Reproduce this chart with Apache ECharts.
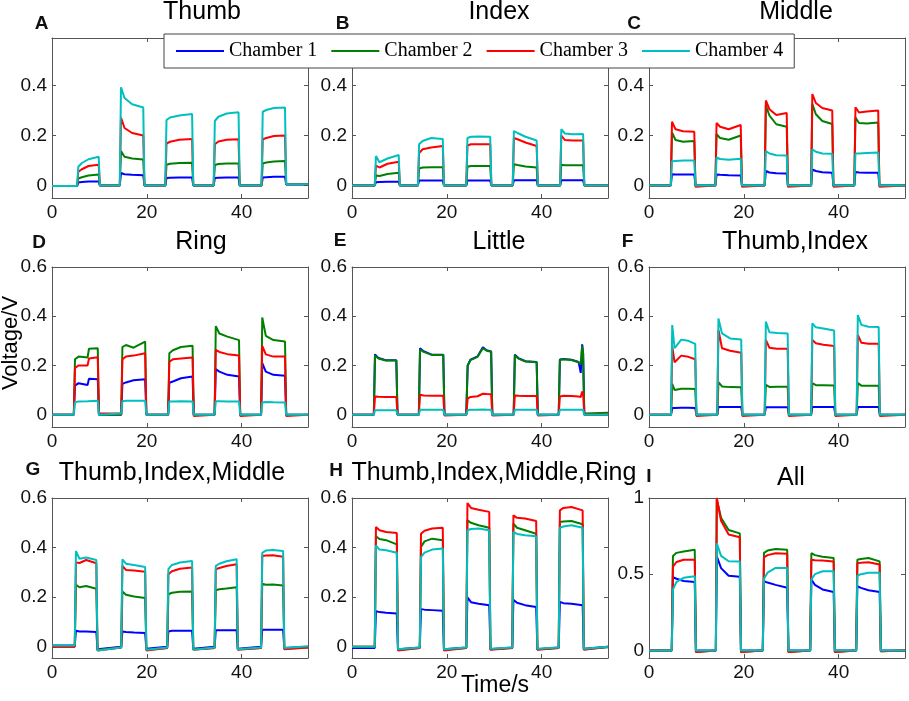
<!DOCTYPE html>
<html><head><meta charset="utf-8">
<script src="https://cdn.jsdelivr.net/npm/echarts@6/dist/echarts.min.js"></script>
<style>html,body{margin:0;padding:0;background:#fff}#c{width:909px;height:701px}</style>
</head><body><div id="c"></div>
<script>
const seriesNames = ['Chamber 1','Chamber 2','Chamber 3','Chamber 4'];
const seriesColors = ['#0000ff','#008000','#ff0000','#00bfbf'];
const panelTitles = ['Thumb','Index','Middle','Ring','Little','Thumb,Index','Thumb,Index,Middle','Thumb,Index,Middle,Ring','All'];
const panelLetters = ['A','B','C','D','E','F','G','H','I'];
const xTicks = [0,20,40];
const yTicksTop = [0,0.2,0.4];
const yTicksMid = [0,0.2,0.4,0.6];
const yTicksAll = [0,0.5,1];

// ---- Panel A : Thumb
const tA = [0, 5.3,5.55,6.3,7.7,9.85,10.1, 14.3,14.55,15.3,16.9,19.25,19.5, 23.9,24.15,24.9,26.85,29.55,29.8, 34.1,34.35,35.1,36.85,39.35,39.6, 44.2,44.45,45.2,46.8,49.15,49.4, 54];
const A1 = [-0.002, -0.002,0.012,0.014,0.016,0.016,0, 0,0.05,0.045,0.043,0.041,0, 0,0.03,0.031,0.032,0.032,0, 0,0.03,0.031,0.032,0.032,0, 0,0.032,0.033,0.035,0.035,0.004, 0.004];
const A2 = [-0.002, -0.002,0.028,0.033,0.04,0.044,0, 0,0.138,0.115,0.108,0.104,0, 0,0.083,0.087,0.09,0.091,0, 0,0.082,0.086,0.088,0.088,0, 0,0.088,0.092,0.096,0.098,0.005, 0.005];
const A3 = [-0.002, -0.002,0.055,0.065,0.078,0.083,0, 0,0.272,0.23,0.21,0.2,0, 0,0.168,0.175,0.183,0.186,0, 0,0.165,0.176,0.183,0.185,0, 0,0.185,0.19,0.198,0.2,0.005, 0.005];
const A4 = [-0.002, -0.002,0.075,0.09,0.105,0.115,0, 0,0.393,0.35,0.325,0.312,0, 0,0.262,0.272,0.28,0.286,0, 0,0.258,0.275,0.288,0.293,0, 0,0.295,0.302,0.31,0.312,0.005, 0.005];

// ---- Panel B : Index
const tB = [0, 4.8,5.05,5.8,7.5,9.85,10.1, 13.9,14.15,14.9,16.7,19.15,19.4, 24.1,24.35,25.1,26.8,29.15,29.4, 33.9,34.15,34.9,36.6,38.95,39.2, 43.9,44.15,44.9,46.5,48.75,49.0, 54];
const B1 = [0, 0,0.013,0.014,0.015,0.015,0, 0,0.02,0.02,0.02,0.02,0, 0,0.02,0.02,0.02,0.02,0, 0,0.021,0.021,0.021,0.021,0, 0,0.021,0.021,0.021,0.021,0, 0];
const B2 = [0, 0,0.04,0.038,0.046,0.051,0, 0,0.068,0.072,0.073,0.073,0, 0,0.075,0.078,0.078,0.078,0, 0,0.085,0.082,0.076,0.072,0, 0,0.083,0.081,0.081,0.081,0, 0];
const B3 = [0, 0,0.08,0.072,0.087,0.095,0, 0,0.13,0.145,0.152,0.158,0, 0,0.16,0.165,0.165,0.165,0, 0,0.19,0.185,0.172,0.158,0, 0,0.2,0.182,0.18,0.18,0, 0];
const B4 = [0, 0,0.118,0.093,0.108,0.122,0, 0,0.165,0.178,0.19,0.186,0, 0,0.19,0.195,0.196,0.195,0, 0,0.218,0.21,0.195,0.18,0, 0,0.225,0.208,0.205,0.206,0, 0];

// ---- Panel C : Middle
const tC = [0, 4.6,4.85,5.6,7.2,9.55,9.8, 14.0,14.25,15.0,16.8,19.35,19.6, 24.4,24.65,25.4,26.85,29.05,29.3, 34.2,34.45,35.2,36.55,38.65,38.9, 43.3,43.55,44.3,45.95,48.35,48.6, 54];
const C1 = [0, 0,0.045,0.044,0.044,0.044,0, 0,0.044,0.043,0.041,0.04,0, 0,0.058,0.052,0.049,0.048,0, 0,0.064,0.058,0.053,0.051,0, 0,0.054,0.052,0.051,0.051,0, 0];
const C2 = [0, 0,0.212,0.182,0.175,0.178,0, 0,0.205,0.19,0.183,0.2,0, 0,0.32,0.28,0.245,0.235,0, 0,0.326,0.285,0.258,0.246,0, 0,0.272,0.25,0.248,0.252,0, 0];
const C3 = [0, 0,0.255,0.225,0.217,0.215,-0.005, 0,0.25,0.235,0.225,0.242,-0.005, 0,0.34,0.305,0.282,0.29,-0.005, 0,0.366,0.33,0.31,0.3,-0.005, 0,0.313,0.292,0.296,0.3,-0.005, 0];
const C4 = [0, 0,0.097,0.098,0.1,0.1,0, 0,0.112,0.106,0.103,0.107,0, 0,0.138,0.128,0.121,0.12,0, 0,0.145,0.135,0.128,0.127,0, 0,0.128,0.128,0.13,0.132,0, 0];

// ---- Panel D : Ring
const tD = [0, 4.6,4.85,5.6,7.5,7.8,9.65,9.9, 14.6,14.85,15.6,17.2,19.65,19.9, 24.5,24.75,25.5,27.2,29.65,29.9, 34.3,34.55,35.3,37.0,39.45,39.7, 44.1,44.35,45.1,46.7,49.15,49.4, 54];
const D1 = [0, 0,0.118,0.128,0.121,0.146,0.144,0, 0,0.125,0.131,0.14,0.144,0, 0,0.13,0.135,0.148,0.155,0, 0,0.185,0.175,0.162,0.155,0, 0,0.209,0.175,0.162,0.158,0, 0];
const D2 = [0, 0,0.225,0.236,0.232,0.268,0.27,0, 0,0.275,0.283,0.272,0.297,0, 0,0.25,0.262,0.275,0.28,0, 0,0.36,0.33,0.317,0.303,0, 0,0.395,0.32,0.303,0.297,0, 0];
const D3 = [0, 0,0.19,0.2,0.2,0.228,0.233,0.005, 0.005,0.225,0.236,0.24,0.25,0, 0,0.215,0.225,0.228,0.232,-0.005, 0,0.263,0.255,0.246,0.24,-0.005, 0,0.28,0.245,0.236,0.236,-0.005, 0];
const D4 = [0, 0,0.05,0.054,0.055,0.057,0.057,0, 0.005,0.055,0.057,0.057,0.057,0, 0,0.054,0.054,0.055,0.054,0, 0,0.055,0.055,0.054,0.054,0, 0,0.05,0.052,0.051,0.05,0, 0];

// ---- Panel E : Little
const tE = [0, 4.6,4.85,5.6,7.1,9.35,9.6, 14.1,14.35,15.1,16.8,19.25,19.5, 24.1,24.4,25.0,26.5,27.6,28.4,29.35,29.6, 34.1,34.35,35.1,36.6,38.95,39.2, 43.6,43.85,44.6,46.3,47.8,48.25,48.55,48.75,49.0, 54];
const E1 = [0, 0,0.245,0.23,0.221,0.221,0, 0,0.27,0.258,0.244,0.244,0, 0,0.2,0.224,0.237,0.274,0.262,0.257,0, 0,0.244,0.23,0.217,0.214,0, 0,0.224,0.226,0.223,0.214,0.17,0.286,0.25,0, 0];
const E2 = [0, 0,0.24,0.228,0.22,0.22,0, 0,0.265,0.255,0.243,0.243,0, 0,0.2,0.222,0.235,0.27,0.26,0.256,0, 0,0.24,0.228,0.216,0.213,0, 0,0.222,0.225,0.222,0.213,0.205,0.28,0.25,0.005, 0.008];
const E3 = [0, 0,0.074,0.073,0.072,0.072,0, 0,0.081,0.078,0.077,0.077,-0.003, 0,0.065,0.072,0.075,0.085,0.084,0.083,-0.003, 0,0.078,0.077,0.076,0.076,-0.003, 0,0.074,0.077,0.076,0.074,0.072,0.094,0.085,0, 0];
const E4 = [0, 0,0.018,0.018,0.018,0.018,0, 0,0.02,0.02,0.02,0.02,0, 0,0.018,0.02,0.02,0.021,0.02,0.02,0, 0,0.02,0.02,0.02,0.02,0, 0,0.02,0.02,0.02,0.02,0.02,0.021,0.02,0, 0];

// ---- Panel F : Thumb,Index
const tF = [0, 4.65,4.9,5.4,6.8,8.3,9.75,10.0, 14.4,14.65,15.4,17.1,19.45,19.7, 24.4,24.65,25.4,27.0,29.25,29.5, 34.2,34.45,35.2,36.8,39.05,39.3, 43.8,44.05,44.8,46.3,48.45,48.7, 54];
const F1 = [0, 0,0.027,0.027,0.028,0.028,0.027,0, 0,0.031,0.031,0.031,0.031,0, 0,0.03,0.03,0.03,0.03,0, 0,0.031,0.031,0.031,0.031,0, 0,0.031,0.031,0.031,0.031,0, 0];
const F2 = [0, 0,0.125,0.1,0.105,0.105,0.104,0, 0,0.132,0.115,0.112,0.111,0, 0,0.121,0.113,0.114,0.114,0, 0,0.128,0.12,0.12,0.119,0, 0,0.128,0.118,0.118,0.118,0, 0];
const F3 = [0, 0,0.277,0.213,0.24,0.235,0.225,-0.005, 0,0.344,0.27,0.26,0.252,-0.005, 0,0.304,0.272,0.268,0.268,-0.005, 0,0.304,0.29,0.284,0.279,-0.005, 0,0.324,0.292,0.288,0.288,-0.005, 0];
const F4 = [0, 0,0.364,0.27,0.305,0.3,0.288,0, 0,0.391,0.33,0.31,0.305,0, 0,0.378,0.335,0.332,0.33,0, 0,0.371,0.355,0.35,0.342,0, 0,0.405,0.365,0.357,0.356,0, 0];

// ---- Panel G : Thumb,Index,Middle
const tG = [0, 4.8,5.05,5.8,7.2,9.35,9.6, 14.6,14.85,15.6,17.3,19.65,19.9, 24.3,24.55,25.3,27.0,29.55,29.8, 34.3,34.55,35.3,36.8,38.95,39.2, 44.1,44.35,45.1,46.6,48.75,49.0, 54];
const G1 = [0.005, 0.005,0.065,0.062,0.062,0.06,-0.01, 0,0.062,0.06,0.058,0.056,-0.008, 0,0.062,0.065,0.065,0.065,-0.008, 0,0.067,0.067,0.067,0.067,-0.008, 0,0.069,0.069,0.069,0.069,-0.005, 0];
const G2 = [0, 0,0.25,0.24,0.245,0.234,-0.012, -0.003,0.223,0.21,0.203,0.197,-0.012, -0.005,0.212,0.218,0.222,0.223,-0.01, -0.005,0.228,0.232,0.235,0.24,-0.01, -0.005,0.254,0.25,0.251,0.247,-0.008, -0.003];
const G3 = [0, 0,0.34,0.338,0.35,0.337,-0.015, -0.003,0.326,0.31,0.308,0.303,-0.015, -0.005,0.293,0.305,0.315,0.32,-0.012, -0.005,0.313,0.318,0.326,0.333,-0.012, -0.005,0.366,0.368,0.369,0.363,-0.01, -0.003];
const G4 = [0.005, 0.005,0.386,0.355,0.36,0.35,-0.015, -0.003,0.353,0.335,0.33,0.322,-0.012, -0.003,0.313,0.33,0.34,0.346,-0.012, -0.003,0.326,0.335,0.345,0.353,-0.01, -0.003,0.379,0.388,0.39,0.386,-0.005, 0.002];

// ---- Panel H : Thumb,Index,Middle,Ring
const tH = [0, 4.8,5.05,5.8,7.2,9.45,9.7, 14.3,14.55,15.3,16.9,19.15,19.4, 24.1,24.35,25.1,26.7,28.95,29.2, 33.8,34.05,34.8,36.5,38.85,39.1, 43.6,43.85,44.6,46.3,48.65,48.9, 54];
const H1 = [-0.005, -0.005,0.144,0.14,0.137,0.134,-0.01, -0.003,0.152,0.15,0.148,0.145,-0.01, -0.003,0.2,0.18,0.174,0.168,-0.01, -0.003,0.19,0.178,0.168,0.161,-0.01, -0.003,0.181,0.176,0.174,0.168,-0.008, 0];
const H2 = [0, 0,0.446,0.435,0.43,0.413,-0.012, -0.005,0.403,0.425,0.436,0.43,-0.012, -0.005,0.51,0.5,0.49,0.48,-0.01, -0.005,0.497,0.48,0.47,0.456,-0.01, -0.005,0.503,0.505,0.507,0.494,-0.01, -0.002];
const H3 = [0, 0,0.483,0.47,0.463,0.459,-0.015, -0.005,0.456,0.468,0.477,0.48,-0.015, -0.005,0.58,0.56,0.553,0.544,-0.012, -0.005,0.53,0.52,0.517,0.507,-0.012, -0.005,0.55,0.56,0.564,0.55,-0.012, 0];
const H4 = [0, 0,0.409,0.392,0.389,0.379,-0.01, -0.003,0.362,0.38,0.392,0.396,-0.01, -0.003,0.47,0.475,0.477,0.47,-0.008, -0.003,0.463,0.455,0.45,0.446,-0.008, -0.003,0.48,0.485,0.49,0.48,-0.008, 0];

// ---- Panel I : All
const tI = [0, 4.8,5.05,5.8,7.3,9.65,9.9, 14.1,14.3,15.2,16.8,19.15,19.4, 24.0,24.25,25.0,26.7,29.15,29.4, 34.0,34.25,35.0,36.6,38.95,39.2, 43.7,43.95,44.7,46.3,48.65,48.9, 54];
const I1 = [0, 0,0.48,0.47,0.455,0.448,0, 0,0.617,0.54,0.49,0.483,0, 0,0.455,0.445,0.43,0.411,0, 0,0.465,0.43,0.4,0.383,0, 0,0.422,0.41,0.395,0.383,0, 0];
const I2 = [0, 0,0.62,0.64,0.649,0.66,-0.01, 0,0.99,0.87,0.79,0.768,-0.01, 0,0.64,0.655,0.665,0.66,-0.01, 0,0.638,0.625,0.615,0.606,-0.01, 0,0.595,0.6,0.606,0.584,-0.005, 0];
const I3 = [0, 0,0.55,0.58,0.595,0.595,-0.01, 0,1.0,0.85,0.76,0.742,-0.01, 0,0.61,0.625,0.638,0.634,-0.01, 0,0.595,0.592,0.59,0.584,-0.01, 0,0.574,0.575,0.578,0.563,-0.005, 0];
const I4 = [0, 0,0.4,0.45,0.476,0.487,0, 0,0.703,0.62,0.585,0.584,0, 0,0.47,0.51,0.541,0.541,0, 0,0.465,0.5,0.519,0.52,0, 0,0.49,0.5,0.509,0.509,0, 0];

const panels = [
  {t:tA, v:[A1,A2,A3,A4], yMin:-0.05, yMax:0.59, ticks:yTicksTop},
  {t:tB, v:[B1,B2,B3,B4], yMin:-0.05, yMax:0.59, ticks:yTicksTop},
  {t:tC, v:[C1,C2,C3,C4], yMin:-0.05, yMax:0.59, ticks:yTicksTop},
  {t:tD, v:[D1,D2,D3,D4], yMin:-0.05, yMax:0.6, ticks:yTicksMid},
  {t:tE, v:[E1,E2,E3,E4], yMin:-0.05, yMax:0.6, ticks:yTicksMid},
  {t:tF, v:[F1,F2,F3,F4], yMin:-0.05, yMax:0.6, ticks:yTicksMid},
  {t:tG, v:[G1,G2,G3,G4], yMin:-0.045, yMax:0.6, ticks:yTicksMid},
  {t:tH, v:[H1,H2,H3,H4], yMin:-0.045, yMax:0.6, ticks:yTicksMid},
  {t:tI, v:[I1,I2,I3,I4], yMin:-0.05, yMax:1, ticks:yTicksAll}
];

// layout (pixels)
const colLeft = [52, 352, 649];
const rowTop = [38, 267, 498];
const gridW = 256, gridH = 160;
const titlePos = [[202,12.5],[499,12.5],[796,12.5],[201,242.5],[499,242.5],[795,242],[172,473],[494,473],[791,478]];
const letterPos = [[41.5,24],[342.5,24],[634,24],[39,242.5],[340,241],[627.5,242],[33,470],[336,471],[649,477]];

const axisColor = '#555';
const tickFont = {fontFamily:'Liberation Sans, Arial, sans-serif', fontSize:19, color:'#111'};

const grids = [], xAxes = [], yAxes = [], series = [], graphics = [];
panels.forEach((p, i) => {
  const r = Math.floor(i/3), c = i%3;
  grids.push({left: colLeft[c], top: rowTop[r], width: gridW, height: gridH, containLabel:false, outerBoundsMode:'none'});
  const baseX = {type:'value', gridIndex:i, min:0, max:54, splitLine:{show:false},
    axisLine:{show:true, onZero:false, lineStyle:{color:axisColor, width:1}},
    axisTick:{show:true, inside:true, length:4, customValues:xTicks, lineStyle:{color:axisColor}}};
  xAxes.push(Object.assign({}, baseX, {position:'bottom',
    axisLabel:Object.assign({show:true, customValues:xTicks, margin:5}, tickFont)}));
  xAxes.push(Object.assign({}, baseX, {position:'top', axisLabel:{show:false}}));
  const baseY = {type:'value', gridIndex:i, min:p.yMin, max:p.yMax, splitLine:{show:false},
    axisLine:{show:true, onZero:false, lineStyle:{color:axisColor, width:1}},
    axisTick:{show:true, inside:true, length:4, customValues:p.ticks, lineStyle:{color:axisColor}}};
  yAxes.push(Object.assign({}, baseY, {position:'left',
    axisLabel:Object.assign({show:true, customValues:p.ticks, margin:5}, tickFont)}));
  yAxes.push(Object.assign({}, baseY, {position:'right', axisLabel:{show:false}}));
  for (let k = 0; k < 4; k++) {
    series.push({type:'line', name:seriesNames[k], xAxisIndex:2*i, yAxisIndex:2*i,
      data: p.t.map((x, j) => [x, p.v[k][j]]),
      symbol:'none', showSymbol:false, animation:false, clip:true,
      lineStyle:{width:2, color:seriesColors[k]}, itemStyle:{color:seriesColors[k]}, z:2+k});
  }
  graphics.push({type:'text', x:titlePos[i][0], y:titlePos[i][1], z:20,
    style:{text:panelTitles[i], font:'25px "Liberation Sans", Arial, sans-serif', fill:'#000',
      align:'center', verticalAlign:'middle', textAlign:'center', textVerticalAlign:'middle'}});
  graphics.push({type:'text', x:letterPos[i][0], y:letterPos[i][1], z:20,
    style:{text:panelLetters[i], font:'bold 19px "Liberation Sans", Arial, sans-serif', fill:'#111',
      align:'center', verticalAlign:'middle', textAlign:'center', textVerticalAlign:'middle'}});
});
graphics.push({type:'text', x:11, y:343, rotation:Math.PI/2, z:20,
  style:{text:'Voltage/V', font:'22px "Liberation Sans", Arial, sans-serif', fill:'#000',
    align:'center', verticalAlign:'middle', textAlign:'center', textVerticalAlign:'middle'}});
graphics.push({type:'text', x:495, y:686, z:20,
  style:{text:'Time/s', font:'23px "Liberation Sans", Arial, sans-serif', fill:'#000',
    align:'center', verticalAlign:'middle', textAlign:'center', textVerticalAlign:'middle'}});

const chart = echarts.init(document.getElementById('c'), null, {renderer:'canvas'});
chart.setOption({
  animation:false,
  backgroundColor:'#fff',
  grid: grids, xAxis: xAxes, yAxis: yAxes, series: series,
  legend: {data: seriesNames, left:164, top:34, orient:'horizontal', selectedMode:false,
    itemWidth:48, itemHeight:14, itemGap:13, padding:[7,11,7,11],
    itemStyle:{opacity:0}, lineStyle:{width:2},
    borderColor:'#444', borderWidth:1, backgroundColor:'#fff', z:30,
    textStyle:{fontFamily:'Liberation Serif, Times New Roman, serif', fontSize:20, color:'#000'}},
  graphic: graphics
});
</script></body></html>
